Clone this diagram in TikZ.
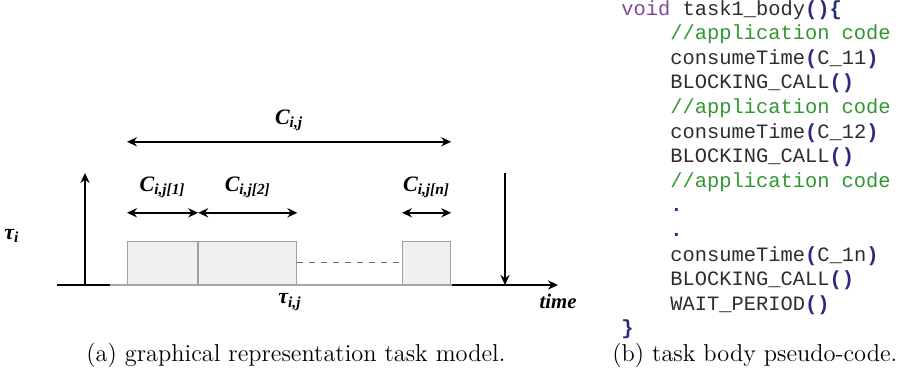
\documentclass[tikz,border=0pt]{standalone}
\usepackage{fontspec}
\usetikzlibrary{arrows.meta, positioning}
\newfontfamily\codefont{Liberation Mono}
\newfontfamily\figfont{Liberation Serif}
\definecolor{codepurple}{RGB}{127,72,160}
\definecolor{codegreen}{RGB}{50,150,50}
\definecolor{codeblue}{RGB}{42,42,128}
\definecolor{codegrey}{RGB}{45,45,45}
\newcommand\codekw[1]{\textcolor{codepurple}{#1}}
\newcommand\codecmt[1]{\textcolor{codegreen}{#1}}
\newcommand\codepn[1]{\textcolor{codeblue}{\bfseries #1}}
\newcommand\codeind{\phantom{void}}
\tikzset{
    % Timeline
    slice/.style = {draw=gray!75, fill=gray!12, line width=0.6pt, minimum height=21.5pt, inner sep=0pt},
    arrow/.style = {line width=1pt, -{Stealth[length=5pt, width=4.6pt]}},
    dim/.style   = {line width=1pt, {Stealth[length=5pt, width=4.6pt]}-{Stealth[length=5pt, width=4.6pt]}},
    lbl/.style   = {font=\figfont\bfseries\itshape\fontsize{11}{13}\selectfont, inner sep=0pt},
    % Code listing
    codeline/.style = {font=\codefont\fontsize{10.2}{11.9}\selectfont, text=codegrey, inner sep=0pt,
        anchor=west, text height=8.5pt, text depth=3.4pt},
    nextline/.style = {below=0pt of #1.south west, anchor=north west},
    caption/.style  = {font=\fontsize{12.2}{14}\selectfont, inner sep=0pt, anchor=mid west}
}
\begin{document}
\begin{tikzpicture}[x=0.5pt, y=-0.5pt]
    \useasboundingbox (0,0) rectangle (909,378);

    % (a) task model
    \node (b1) [slice, minimum width=35pt, anchor=south west] at (127,285) {};
    \node (b2) [slice, minimum width=49pt, anchor=south west] at (b1.south east) {};
    \node (b3) [slice, minimum width=24pt, anchor=south west] at (402,285) {};
    \draw [black!60, dashed, line width=0.6pt] (b2.east) -- (b3.west);

    \coordinate (t0) at (57,285);
    \coordinate (g0) at (110,285);
    \coordinate (g1) at (452,285);
    \coordinate (t1) at (558,285);
    \draw [line width=1pt] (t0) -- (g0);
    \draw [gray!70, line width=0.8pt] (g0) -- (g1);
    \draw [arrow] (g1) -- (t1);

    \coordinate (rel0) at (85,285);
    \coordinate (rel1) at (85,173);
    \draw [arrow] (rel0) -- (rel1);
    \coordinate (dl0) at (505,173);
    \coordinate (dl1) at (505,285);
    \draw [arrow] (dl0) -- (dl1);

    \draw [dim] ([yshift=14pt]b1.north west) -- node[above=7pt, lbl] (c1) {C\textsubscript{i,j[1]}} ([yshift=14pt]b1.north east);
    \draw [dim] ([yshift=14pt]b2.north west) -- node[above=7pt, lbl] (c2) {C\textsubscript{i,j[2]}} ([yshift=14pt]b2.north east);
    \draw [dim] ([yshift=14pt]b3.north west) -- node[above=7pt, lbl] (cn) {C\textsubscript{i,j[n]}} ([yshift=14pt]b3.north east);
    \draw [dim] ([yshift=49.5pt]b1.north west) -- node[above=5pt, lbl] (call) {C\textsubscript{i,j}} ([yshift=49.5pt]b3.north east);

    \node (taui) [lbl] at (12,236) {τ\textsubscript{i}};
    \node (tauij) [lbl] at (290,302) {τ\textsubscript{i,j}};
    \node (time) [lbl, font=\figfont\bfseries\itshape\fontsize{10.4}{12}\selectfont] at (558,301) {time};

    % (b) task body
    \node (l1) [codeline] at (621,10) {\codekw{void} task1\_body\codepn{()\{}};
    \node (l2) [codeline, nextline=l1] {\codeind\codecmt{//application code}};
    \node (l3) [codeline, nextline=l2] {\codeind consumeTime\codepn{(}C\_11\codepn{)}};
    \node (l4) [codeline, nextline=l3] {\codeind BLOCKING\_CALL\codepn{()}};
    \node (l5) [codeline, nextline=l4] {\codeind\codecmt{//application code}};
    \node (l6) [codeline, nextline=l5] {\codeind consumeTime\codepn{(}C\_12\codepn{)}};
    \node (l7) [codeline, nextline=l6] {\codeind BLOCKING\_CALL\codepn{()}};
    \node (l8) [codeline, nextline=l7] {\codeind\codecmt{//application code}};
    \node (l9) [codeline, nextline=l8] {\codeind\codepn{.}};
    \node (l10) [codeline, nextline=l9] {\codeind\codepn{.}};
    \node (l11) [codeline, nextline=l10] {\codeind consumeTime\codepn{(}C\_1n\codepn{)}};
    \node (l12) [codeline, nextline=l11] {\codeind BLOCKING\_CALL\codepn{()}};
    \node (l13) [codeline, nextline=l12] {\codeind WAIT\_PERIOD\codepn{()}};
    \node (l14) [codeline, nextline=l13] {\codepn{\}}};

    % captions
    \node (capa) [caption] at (86,357) {(a) graphical representation task model.};
    \node (capb) [caption] at (612,357) {(b) task body pseudo-code.};
\end{tikzpicture}
\end{document}
